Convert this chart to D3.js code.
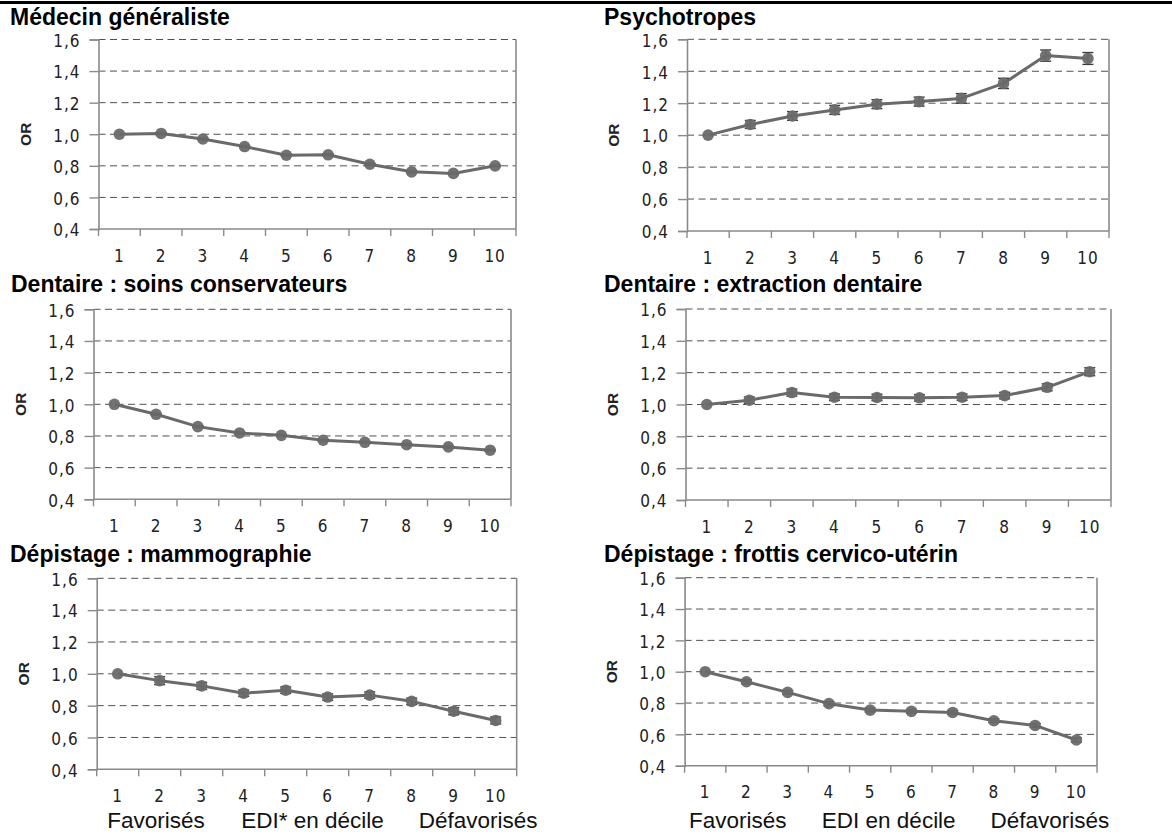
<!DOCTYPE html>
<html>
<head>
<meta charset="utf-8">
<script src="https://cdn.jsdelivr.net/npm/d3@7"></script>
<style>
  html, body { margin: 0; padding: 0; background: #fff; }
  svg { display: block; }
  .title { font-family: "Liberation Sans", Arial, sans-serif; font-weight: bold; font-size: 23px; fill: #000; }
  .tick-label { font-family: "Liberation Sans Narrow", "Arial Narrow", "DejaVu Sans Condensed", sans-serif; font-size: 17px; fill: #222; letter-spacing: 1px; }
  .or-label { font-family: "Liberation Sans Narrow", "Arial Narrow", "Liberation Sans", sans-serif; font-weight: bold; font-size: 15.5px; fill: #222; }
  .note { font-family: "Liberation Sans", Arial, sans-serif; font-size: 22.5px; fill: #111; }
</style>
</head>
<body>
<svg id="chart" width="1172" height="834"></svg>
<script>
// ---------- data ----------
const deciles = ["1", "2", "3", "4", "5", "6", "7", "8", "9", "10"];
const yTickValues = [0.4, 0.6, 0.8, 1.0, 1.2, 1.4, 1.6];
const yDomain = [0.4, 1.6];
const yAxisTitle = "OR";

const panelTitles = [
  "Médecin généraliste",
  "Psychotropes",
  "Dentaire : soins conservateurs",
  "Dentaire : extraction dentaire",
  "Dépistage : mammographie",
  "Dépistage : frottis cervico-utérin"
];

// odds ratios per decile, and half-width of the confidence interval
const medecinOR   = [1.00, 1.005, 0.97, 0.922, 0.867, 0.870, 0.810, 0.762, 0.752, 0.800];
const medecinCI   = [0, 0.006, 0.006, 0.006, 0.006, 0.006, 0.006, 0.006, 0.006, 0.006];
const psychoOR    = [1.00, 1.067, 1.120, 1.158, 1.194, 1.210, 1.230, 1.324, 1.498, 1.480];
const psychoCI    = [0, 0.025, 0.027, 0.028, 0.028, 0.028, 0.030, 0.032, 0.035, 0.037];
const soinsOR     = [1.00, 0.937, 0.859, 0.819, 0.804, 0.773, 0.760, 0.745, 0.731, 0.710];
const soinsCI     = [0, 0.005, 0.005, 0.005, 0.005, 0.005, 0.005, 0.005, 0.005, 0.005];
const extractOR   = [1.00, 1.027, 1.075, 1.046, 1.044, 1.042, 1.046, 1.056, 1.108, 1.206];
const extractCI   = [0, 0.02, 0.022, 0.02, 0.02, 0.02, 0.02, 0.02, 0.022, 0.025];
const mammoOR     = [1.00, 0.957, 0.924, 0.878, 0.897, 0.854, 0.866, 0.827, 0.765, 0.707];
const mammoCI     = [0, 0.025, 0.022, 0.02, 0.02, 0.02, 0.02, 0.02, 0.022, 0.022];
const frottisOR   = [1.00, 0.936, 0.868, 0.796, 0.755, 0.747, 0.740, 0.687, 0.657, 0.564];
const frottisCI   = [0, 0.012, 0.012, 0.012, 0.012, 0.012, 0.012, 0.012, 0.012, 0.014];

const notesLeft  = ["Favorisés", "EDI* en décile", "Défavorisés"];
const notesRight = ["Favorisés", "EDI en décile", "Défavorisés"];

const seriesOR = [medecinOR, psychoOR, soinsOR, extractOR, mammoOR, frottisOR];
const seriesCI = [medecinCI, psychoCI, soinsCI, extractCI, mammoCI, frottisCI];

// ---------- layout (positions only) ----------
const layout = [
  { x0: 98.5,  x1: 516,   yTop: 39.5,  yBot: 229,   tx: 10,  ty: 25 },
  { x0: 687,   x1: 1109,  yTop: 39.3,  yBot: 231,   tx: 604, ty: 25 },
  { x0: 93.5,  x1: 511,   yTop: 309.3, yBot: 499.3, tx: 11,  ty: 291.7 },
  { x0: 685.5, x1: 1111,  yTop: 309,   yBot: 500,   tx: 604, ty: 291.7 },
  { x0: 96.7,  x1: 516.7, yTop: 578.3, yBot: 769.3, tx: 10,  ty: 561.7 },
  { x0: 684.6, x1: 1097,  yTop: 577.7, yBot: 765.7, tx: 604, ty: 561.7 }
];
const noteFrac = { left: [0.141, 0.514, 0.908], right: [0.129, 0.495, 0.886] };

const svg = d3.select("#chart");
svg.append("rect").attr("width", 1172).attr("height", 834).attr("fill", "#fff");
svg.append("rect").attr("x", 0).attr("y", 1).attr("width", 1172).attr("height", 3).attr("fill", "#000");

const fmt = v => d3.format(".1f")(v).replace(".", ",");
const axisColor = "#8a8a8a";
const lineColor = "#6a6a6a";

panelTitles.forEach((title, i) => {
  const L = layout[i];
  const g = svg.append("g");
  const x = d3.scaleBand().domain(deciles).range([L.x0, L.x1]).padding(0);
  const y = d3.scaleLinear().domain(yDomain).range([L.yBot, L.yTop]);

  // title
  g.append("text").attr("class", "title").attr("x", L.tx).attr("y", L.ty).text(title);

  // dashed gridlines
  g.selectAll(".grid").data(yTickValues.filter(v => v > yDomain[0]))
    .enter().append("line")
    .attr("x1", L.x0).attr("x2", L.x1)
    .attr("y1", d => y(d)).attr("y2", d => y(d))
    .attr("stroke", "#505050").attr("stroke-width", 1).attr("stroke-dasharray", "7,4.5");

  // y axis
  const yAxis = d3.axisLeft(y).tickValues(yTickValues).tickFormat(fmt).tickSize(9).tickPadding(9);
  const ya = g.append("g").attr("transform", `translate(${L.x0},0)`).call(yAxis);
  ya.select(".domain").attr("stroke", axisColor).attr("stroke-width", 1.6);
  ya.selectAll(".tick line").attr("stroke", axisColor).attr("stroke-width", 1.4);
  ya.selectAll(".tick text").attr("class", "tick-label").attr("fill", null).attr("font-size", null).attr("font-family", null).attr("dy", "0.4em");
  ya.attr("font-size", null).attr("font-family", null);

  // right border
  g.append("line").attr("x1", L.x1).attr("x2", L.x1).attr("y1", L.yTop).attr("y2", L.yBot)
    .attr("stroke", axisColor).attr("stroke-width", 1.6);

  // x axis: ticks at band boundaries, labels at centers
  const xAxisG = g.append("g").attr("transform", `translate(0,${L.yBot})`);
  xAxisG.append("line").attr("x1", L.x0).attr("x2", L.x1).attr("stroke", axisColor).attr("stroke-width", 1.6);
  const bounds = deciles.map(d => x(d)).concat([L.x1]);
  xAxisG.selectAll(".xt").data(bounds).enter().append("line")
    .attr("x1", d => d).attr("x2", d => d).attr("y1", 0).attr("y2", 7)
    .attr("stroke", axisColor).attr("stroke-width", 1.4);
  xAxisG.selectAll(".xl").data(deciles).enter().append("text")
    .attr("class", "tick-label")
    .attr("x", d => x(d) + x.bandwidth() / 2).attr("y", 32.5)
    .attr("text-anchor", "middle").text(d => d);

  // y axis title
  const midY = (L.yTop + L.yBot) / 2;
  g.append("text").attr("class", "or-label")
    .attr("transform", `translate(${L.x0 - 68},${midY}) rotate(-90)`)
    .attr("text-anchor", "middle").text(yAxisTitle);

  // data
  const rows = deciles.map((d, k) => ({ d, v: seriesOR[i][k], e: seriesCI[i][k] }));
  const cx = r => x(r.d) + x.bandwidth() / 2;

  g.append("path").datum(rows)
    .attr("fill", "none").attr("stroke", lineColor).attr("stroke-width", 3)
    .attr("stroke-linejoin", "round")
    .attr("d", d3.line().x(cx).y(r => y(r.v)));

  const eb = g.selectAll(".eb").data(rows.filter(r => r.e > 0)).enter().append("g");
  eb.append("line").attr("x1", cx).attr("x2", cx)
    .attr("y1", r => y(r.v - r.e)).attr("y2", r => y(r.v + r.e))
    .attr("stroke", "#3a3a3a").attr("stroke-width", 1.4);
  [-1, 1].forEach(s => {
    eb.append("line").attr("x1", r => cx(r) - 5.5).attr("x2", r => cx(r) + 5.5)
      .attr("y1", r => y(r.v + s * r.e)).attr("y2", r => y(r.v + s * r.e))
      .attr("stroke", "#3a3a3a").attr("stroke-width", 1.4);
  });

  g.selectAll(".pt").data(rows).enter().append("circle")
    .attr("cx", cx).attr("cy", r => y(r.v)).attr("r", 5.8)
    .attr("fill", lineColor).attr("fill-opacity", 0.95);

  // bottom-row notes
  if (i >= 4) {
    const notes = i === 4 ? notesLeft : notesRight;
    const fr = i === 4 ? noteFrac.left : noteFrac.right;
    g.selectAll(".note").data(notes).enter().append("text")
      .attr("class", "note")
      .attr("x", (d, k) => L.x0 + fr[k] * (L.x1 - L.x0))
      .attr("y", 828).attr("text-anchor", "middle").text(d => d);
  }
});
</script>
</body>
</html>
